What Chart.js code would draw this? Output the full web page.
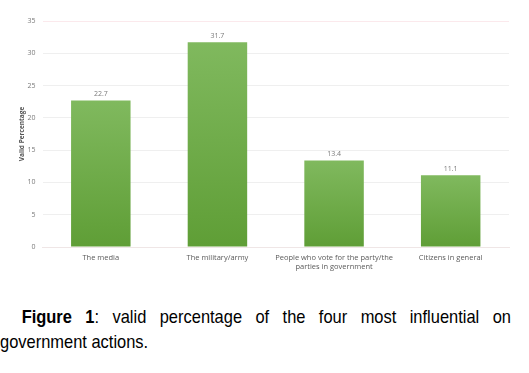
<!DOCTYPE html>
<html>
<head>
<meta charset="utf-8">
<script src="https://cdn.jsdelivr.net/npm/chart.js@4.4.1/dist/chart.umd.min.js"></script>
<style>
  body { margin: 0; background: #fff; width: 529px; height: 373px; overflow: hidden; position: relative; }
  #box { position: absolute; left: 0; top: 0; width: 529px; height: 290px; }
  .cap {
    position: absolute; left: 0; transform-origin: 0 0; transform: scaleX(0.866);
    font-family: "Liberation Sans", Arial, sans-serif; font-size: 19px; line-height: 25px;
    color: #000; white-space: nowrap;
  }
  #cap1 { top: 304px; width: 590px; text-align: justify; text-align-last: justify; text-indent: 25px; white-space: normal; }
  #cap2 { top: 329px; }
</style>
</head>
<body>
<div id="box"><canvas id="myChart"></canvas></div>
<div class="cap" id="cap1"><b>Figure 1</b>: valid percentage of the four most influential on</div>
<div class="cap" id="cap2">government actions.</div>
<script>
var categories = ['The media', 'The military/army', ['People who vote for the party/the', 'parties in government'], 'Citizens in general'];
var validPct = [22.7, 31.7, 13.4, 11.1];

var green1 = '#80b95e';
var green2 = '#5f9e36';

// value labels above each bar
var barLabels = {
    id: 'barLabels',
    afterDatasetsDraw: function(chart) {
        var ctx = chart.ctx;
        var meta = chart.getDatasetMeta(0);
        ctx.save();
        ctx.font = '7px "Open Sans", sans-serif';
        ctx.fillStyle = '#7a7a7a';
        ctx.textAlign = 'center';
        ctx.textBaseline = 'bottom';
        meta.data.forEach(function(bar, i) {
            ctx.fillText(validPct[i].toFixed(1), bar.x, bar.y - 3);
        });
        ctx.restore();
    }
};

var myChart = document.getElementById('myChart').getContext('2d');

var test = new Chart(myChart, {
    type: 'bar',
    data: {
        labels: categories,
        datasets: [
            {
                label: 'Valid Percentage',
                data: validPct,
                backgroundColor: function(context) {
                    var chart = context.chart;
                    if (!chart.chartArea) return green1;
                    var yScale = chart.scales.y;
                    var top = yScale.getPixelForValue(context.raw);
                    var bottom = yScale.getPixelForValue(0);
                    var g = chart.ctx.createLinearGradient(0, top, 0, bottom);
                    g.addColorStop(0, green1);
                    g.addColorStop(1, green2);
                    return g;
                },
                categoryPercentage: 1,
                barPercentage: 0.51
            }
        ]
    },
    options: {
        responsive: true,
        maintainAspectRatio: false,
        animation: false,
        layout: { padding: { top: 21, right: 20, left: 0, bottom: 0 } },
        plugins: {
            legend: { display: false },
            tooltip: { enabled: false }
        },
        scales: {
            x: {
                grid: { display: false, drawTicks: false },
                border: { display: true, color: '#efe6e6', width: 1 },
                ticks: {
                    color: '#5a5a5a',
                    font: { family: '"Open Sans", sans-serif', size: 7.5 },
                    padding: 6,
                    maxRotation: 0,
                    autoSkip: false
                },
                afterFit: function(scale) { scale.height = 43; }
            },
            y: {
                min: 0,
                max: 35,
                ticks: {
                    stepSize: 5,
                    color: '#7a7a7a',
                    font: { family: '"Open Sans", sans-serif', size: 7 },
                    padding: 7
                },
                grid: {
                    drawTicks: false,
                    color: function(context) {
                        return context.tick.value === 35 ? '#fbe9ec' : '#efefef';
                    }
                },
                border: { display: false },
                title: {
                    display: true,
                    text: 'Valid Percentage',
                    color: '#555',
                    font: { family: '"Open Sans", sans-serif', size: 6.5, weight: 'bold' },
                    padding: { top: 18, bottom: 0 }
                },
                afterFit: function(scale) { scale.width = 42.5; }
            }
        }
    },
    plugins: [barLabels]
});
</script>
</body>
</html>
